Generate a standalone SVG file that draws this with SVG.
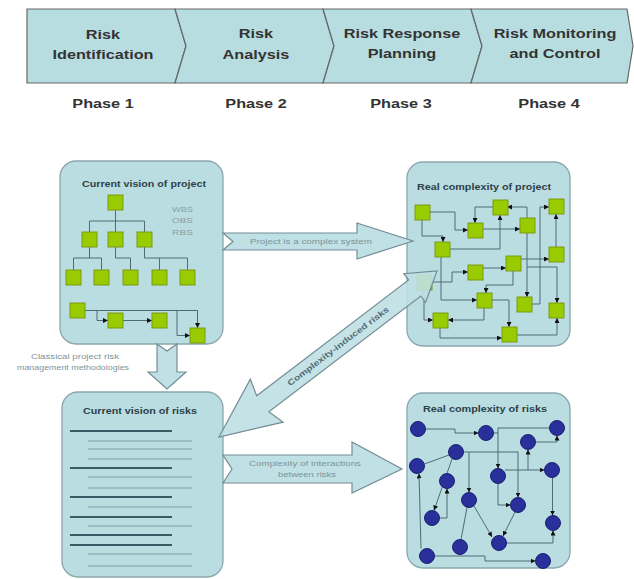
<svg xmlns="http://www.w3.org/2000/svg" width="634" height="579" viewBox="0 0 634 579">
<defs>
<marker id="ah" viewBox="0 0 6 6" refX="6" refY="3" markerWidth="5" markerHeight="5" markerUnits="userSpaceOnUse" orient="auto"><path d="M0,0 L6,3 L0,6 z" fill="#111"/></marker>
<style>
.seg{fill:#b7dde1;stroke:#666;stroke-width:1.2}
.pt{font-family:"Liberation Sans",Arial,sans-serif;font-weight:bold;font-size:13px;fill:#333;text-anchor:middle}
.box{fill:#badde2;stroke:#8aa6ac;stroke-width:1.3}
.ttl{font-family:"Liberation Sans",Arial,sans-serif;font-weight:bold;font-size:8.5px;fill:#2e4148;text-anchor:middle}
.sq{fill:#99cc00;stroke:#7a9a10;stroke-width:1}
.ci{fill:#29309b;stroke:#1b2070;stroke-width:1}
.ln{fill:none;stroke:#4f6b76;stroke-width:1}
.la{fill:none;stroke:#4f6b76;stroke-width:1;marker-end:url(#ah)}
.dk{stroke:#3a5a66;stroke-width:2}
.lt{stroke:#93b3ba;stroke-width:1.5}
.arr{fill:#bfe0e4;stroke:#728d93;stroke-width:1.2}
.al{font-family:"Liberation Sans",Arial,sans-serif;font-size:8px;fill:#7c949a;text-anchor:middle}
.sm{font-family:"Liberation Sans",Arial,sans-serif;font-size:7.5px;fill:#8c9ea4}
</style>
</defs>
<rect width="634" height="579" fill="#fff"/>

<g id="phase-bar">
<g id="phase1"><polygon class="seg" points="27,9 175,9 186,46 175,83 27,83"/></g>
<g id="phase2"><polygon class="seg" points="175,9 323,9 334,46 323,83 175,83 186,46"/></g>
<g id="phase3"><polygon class="seg" points="323,9 471,9 482,46 471,83 323,83 334,46"/></g>
<g id="phase4"><polygon class="seg" points="471,9 627,9 633,46 627,83 471,83 482,46"/></g>
<g transform="scale(1.25 1)">
<text class="pt" x="82.4" y="39">Risk</text>
<text class="pt" x="82.4" y="59">Identification</text>
<text class="pt" x="204.8" y="38">Risk</text>
<text class="pt" x="204.8" y="59">Analysis</text>
<text class="pt" x="321.6" y="38">Risk Response</text>
<text class="pt" x="321.6" y="58">Planning</text>
<text class="pt" x="444" y="38">Risk Monitoring</text>
<text class="pt" x="444" y="58">and Control</text>
<text class="pt" x="82.4" y="108">Phase 1</text>
<text class="pt" x="204.8" y="108">Phase 2</text>
<text class="pt" x="320.8" y="108">Phase 3</text>
<text class="pt" x="439.2" y="108">Phase 4</text>
</g>
</g>

<g id="current-vision-project">
<rect class="box" x="60" y="161" width="163" height="183" rx="16"/>
<text class="ttl" x="144" y="187" textLength="124" lengthAdjust="spacingAndGlyphs">Current vision of project</text>
<text class="sm" x="172" y="212" textLength="21" lengthAdjust="spacingAndGlyphs">WBS</text>
<text class="sm" x="172" y="223" textLength="21" lengthAdjust="spacingAndGlyphs">OBS</text>
<text class="sm" x="172" y="235" textLength="21" lengthAdjust="spacingAndGlyphs">RBS</text>
<path class="ln" d="M115.5,210V221M89.5,232V221H144.5V232M115.5,221V232M89.5,247V258M73.5,270V258H101.5V270M115.5,247V258H130.5V270M144.5,247V258H187.5V270M159.5,258V270"/>
<path class="la" d="M85,310.5H197.5V328"/>
<path class="la" d="M97,310.5V320.5H108"/>
<path class="la" d="M123,320.5H152"/>
<path class="la" d="M177,310.5V335.5H190"/>
<rect class="sq" x="108" y="195" width="15" height="15"/>
<rect class="sq" x="82" y="232" width="15" height="15"/>
<rect class="sq" x="108" y="232" width="15" height="15"/>
<rect class="sq" x="137" y="232" width="15" height="15"/>
<rect class="sq" x="66" y="270" width="15" height="15"/>
<rect class="sq" x="94" y="270" width="15" height="15"/>
<rect class="sq" x="123" y="270" width="15" height="15"/>
<rect class="sq" x="152" y="270" width="15" height="15"/>
<rect class="sq" x="180" y="270" width="15" height="15"/>
<rect class="sq" x="70" y="303" width="15" height="15"/>
<rect class="sq" x="108" y="313" width="15" height="15"/>
<rect class="sq" x="152" y="313" width="15" height="15"/>
<rect class="sq" x="190" y="328" width="15" height="15"/>
</g>

<g id="real-complexity-project">
<rect class="box" x="407" y="162" width="163" height="184" rx="16"/>
<text class="ttl" x="484" y="190" textLength="134" lengthAdjust="spacingAndGlyphs">Real complexity of project</text>
<path class="la" d="M430,212H455V230H468"/>
<path class="la" d="M493,207H475V223"/>
<path class="la" d="M483,229H520"/>
<path class="la" d="M527,218V207H507"/>
<path class="la" d="M556,247V214"/>
<path class="la" d="M532,304H540V207H549"/>
<path class="la" d="M450,249H500V215"/>
<path class="la" d="M441,257V300H477"/>
<path class="la" d="M432,282H452V272H468"/>
<path class="la" d="M483,268H506"/>
<path class="la" d="M521,259H549"/>
<path class="la" d="M513,271V285H486V293"/>
<path class="la" d="M527,233V297"/>
<path class="la" d="M527,267H557V303"/>
<path class="la" d="M424,290V320H433"/>
<path class="la" d="M484,308V320H448"/>
<path class="la" d="M492,300H509V327"/>
<path class="la" d="M517,335H557V318"/>
<path class="la" d="M440,328V338H502"/>
<path class="la" d="M422,220V236H443V242"/>
<rect class="sq" x="415" y="205" width="15" height="15"/>
<rect class="sq" x="493" y="200" width="15" height="15"/>
<rect class="sq" x="549" y="199" width="15" height="15"/>
<rect class="sq" x="468" y="223" width="15" height="15"/>
<rect class="sq" x="520" y="218" width="15" height="15"/>
<rect class="sq" x="435" y="242" width="15" height="15"/>
<rect class="sq" x="549" y="247" width="15" height="15"/>
<rect class="sq" x="506" y="256" width="15" height="15"/>
<rect class="sq" x="468" y="265" width="15" height="15"/>
<rect class="sq" x="417" y="275" width="15" height="15"/>
<rect class="sq" x="477" y="293" width="15" height="15"/>
<rect class="sq" x="517" y="297" width="15" height="15"/>
<rect class="sq" x="549" y="303" width="15" height="15"/>
<rect class="sq" x="433" y="313" width="15" height="15"/>
<rect class="sq" x="502" y="327" width="15" height="15"/>
</g>

<g id="current-vision-risks">
<rect class="box" x="62" y="392" width="161" height="185" rx="16"/>
<text class="ttl" x="140" y="414" textLength="114" lengthAdjust="spacingAndGlyphs">Current vision of risks</text>
<path class="dk" d="M70,431H172M70,468H172M70,497H172M70,517H172M70,535H172M70,545H172"/>
<path class="lt" d="M88,441H192M88,449H192M88,459H192M88,477H192M88,488H192M88,507H192M88,526H192M88,554H192M88,566H192"/>
</g>

<g id="real-complexity-risks">
<rect class="box" x="407" y="393" width="163" height="175" rx="16"/>
<text class="ttl" x="485" y="412" textLength="124" lengthAdjust="spacingAndGlyphs">Real complexity of risks</text>
<path class="la" d="M425.5,429H455V433H478.5"/>
<path class="la" d="M549.5,428H498V468.5"/>
<path class="ln" d="M493.5,433H498"/>
<path class="la" d="M535.5,442H557V435.5"/>
<path class="la" d="M505,470H544.5"/>
<path class="la" d="M528,470V449.5"/>
<path class="la" d="M498,483.5V505H510.5"/>
<path class="la" d="M463.5,452H518V497.5"/>
<path class="la" d="M469,452V492.5"/>
<path class="ln" d="M449,455L424.5,464"/>
<path class="la" d="M452,459L434,510.5"/>
<path class="la" d="M439.5,518H447V488.5"/>
<path class="la" d="M421,548.5L419,473.5"/>
<path class="la" d="M434.5,556H485V561H535.5"/>
<path class="la" d="M474,506L492,537"/>
<path class="ln" d="M461,539.5L467,507.5"/>
<path class="la" d="M515,512L503,536"/>
<path class="la" d="M506.5,543H553V530.5"/>
<path class="la" d="M552.5,477.5V515.5"/>
<circle class="ci" cx="418" cy="429" r="7.5"/>
<circle class="ci" cx="486" cy="433" r="7.5"/>
<circle class="ci" cx="557" cy="428" r="7.5"/>
<circle class="ci" cx="528" cy="442" r="7.5"/>
<circle class="ci" cx="456" cy="452" r="7.5"/>
<circle class="ci" cx="417" cy="466" r="7.5"/>
<circle class="ci" cx="552" cy="470" r="7.5"/>
<circle class="ci" cx="498" cy="476" r="7.5"/>
<circle class="ci" cx="447" cy="481" r="7.5"/>
<circle class="ci" cx="469" cy="500" r="7.5"/>
<circle class="ci" cx="518" cy="505" r="7.5"/>
<circle class="ci" cx="432" cy="518" r="7.5"/>
<circle class="ci" cx="553" cy="523" r="7.5"/>
<circle class="ci" cx="499" cy="543" r="7.5"/>
<circle class="ci" cx="460" cy="547" r="7.5"/>
<circle class="ci" cx="427" cy="556" r="7.5"/>
<circle class="ci" cx="543" cy="561" r="7.5"/>
</g>

<g id="connectors">
<g id="arrow-complex-system">
<polygon class="arr" points="223,233 357,233 357,223 413,241 357,259 357,250 223,250 233,241.5"/>
<text class="al" x="311" y="243.5" textLength="122" lengthAdjust="spacingAndGlyphs">Project is a complex system</text>
</g>
<g id="arrow-classical">
<polygon class="arr" points="157,344 167,351 177,344 177,372 186,372 167,389 148,372 157,372"/>
<text class="al" x="75" y="359" textLength="88" lengthAdjust="spacingAndGlyphs">Classical project risk</text>
<text class="al" x="73" y="370" textLength="112" lengthAdjust="spacingAndGlyphs">management methodologies</text>
</g>
<g id="arrow-induced">
<polygon class="arr" fill-opacity="0.9" points="219,437 250.3,379.2 256.7,395.7 408.6,280 403.8,273.7 437,271 425.6,302.3 420.8,296 268.9,411.7 283.1,422.2"/>
<text class="al" style="font-weight:bold;fill:#4d6a74" transform="rotate(-37.3 338 346)" x="338" y="349" textLength="125" lengthAdjust="spacingAndGlyphs">Complexity-induced risks</text>
</g>
<g id="arrow-interactions">
<polygon class="arr" points="223,455 352,455 352,442 402,469 352,493 352,483 223,483 232,469"/>
<text class="al" x="305" y="466" textLength="112" lengthAdjust="spacingAndGlyphs">Complexity of interactions</text>
<text class="al" x="307" y="477" textLength="58" lengthAdjust="spacingAndGlyphs">between risks</text>
</g>
</g>
</svg>
